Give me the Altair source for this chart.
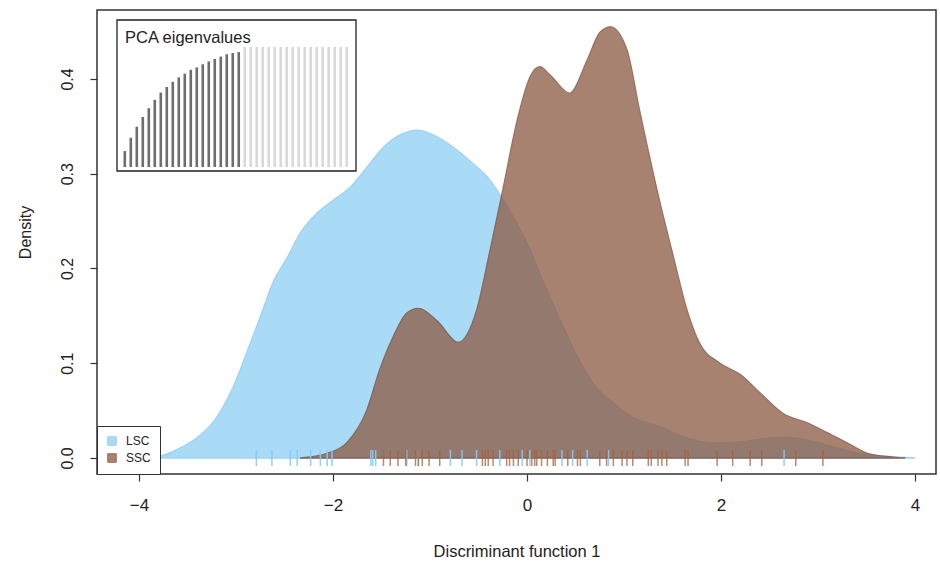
import altair as alt
import pandas as pd

# ---- data ----
groups = ["LSC", "SSC"]

lsc_x = [-3.96, -3.75, -3.55, -3.37, -3.20, -3.03, -2.89, -2.75, -2.62, -2.47, -2.34, -2.16,
         -2.00, -1.82, -1.65, -1.48, -1.31, -1.13, -0.97, -0.76, -0.56, -0.38, -0.26, -0.14,
         0.00, 0.16, 0.34, 0.52, 0.68, 0.89, 1.09, 1.37, 1.65, 1.92, 2.20, 2.40, 2.64, 2.89,
         3.15, 3.43, 3.71, 4.00]
lsc_y = [0, 0.003, 0.012, 0.024, 0.043, 0.075, 0.111, 0.149, 0.185, 0.212, 0.237, 0.259,
         0.272, 0.286, 0.307, 0.328, 0.341, 0.346, 0.341, 0.328, 0.311, 0.293, 0.275, 0.254,
         0.227, 0.188, 0.146, 0.107, 0.079, 0.058, 0.043, 0.033, 0.021, 0.016, 0.017, 0.020,
         0.022, 0.019, 0.012, 0.005, 0.002, 0]

ssc_x = [-2.34, -2.06, -1.86, -1.65, -1.52, -1.38, -1.24, -1.12, -0.92, -0.71, -0.52, -0.38,
         -0.25, -0.10, 0.03, 0.13, 0.24, 0.44, 0.62, 0.75, 0.86, 1.03, 1.16, 1.34, 1.51, 1.65,
         1.78, 1.99, 2.20, 2.40, 2.64, 2.89, 3.09, 3.30, 3.51, 3.77, 3.90]
ssc_y = [0, 0.005, 0.016, 0.051, 0.093, 0.128, 0.153, 0.158, 0.144, 0.122, 0.156, 0.220,
         0.283, 0.357, 0.402, 0.413, 0.404, 0.385, 0.420, 0.449, 0.455, 0.431, 0.367, 0.283,
         0.212, 0.156, 0.121, 0.100, 0.088, 0.069, 0.047, 0.037, 0.027, 0.016, 0.005, 0.001, 0]

lsc_rug = [-2.79, -2.63, -2.44, -2.37, -2.23, -2.13, -2.06, -2.01, -1.61, -1.59, -1.56, -1.24,
           -1.12, -0.79, -0.67, -0.52, -0.28, -0.05, 0.03, 0.36, 0.47, 0.62, 0.84, 2.65]
ssc_rug = [-1.48, -1.41, -1.33, -1.25, -1.15, -1.12, -1.08, -1.01, -0.90, -0.46, -0.43, -0.40,
           -0.35, -0.21, -0.18, -0.14, -0.09, 0.00, 0.05, 0.08, 0.10, 0.15, 0.21, 0.27, 0.29,
           0.42, 0.52, 0.55, 0.75, 0.82, 0.89, 0.98, 1.03, 1.09, 1.25, 1.28, 1.35, 1.39, 1.44,
           1.63, 1.66, 1.96, 2.12, 2.30, 2.42, 2.77, 3.05]

# cumulative PCA eigenvalues (inset), first 20 retained
eig_cum = [0.133, 0.244, 0.336, 0.417, 0.490, 0.560, 0.620, 0.667, 0.710, 0.747,
           0.778, 0.810, 0.830, 0.856, 0.880, 0.900, 0.920, 0.940, 0.950, 0.958] + [1.0] * 18
n_retained = 20

x_ticks = [-4, -2, 0, 2, 4]
y_ticks = [0.0, 0.1, 0.2, 0.3, 0.4]

FONT = "Liberation Sans"

dens = pd.concat([
    pd.DataFrame({"group": "LSC", "x": lsc_x, "y": lsc_y}),
    pd.DataFrame({"group": "SSC", "x": ssc_x, "y": ssc_y}),
], ignore_index=True)

xs = alt.Scale(domain=[-4.433, 4.216], nice=False, zero=False)
ys = alt.Scale(domain=[-0.0169, 0.4728], nice=False, zero=False)

areas = alt.Chart(dens).mark_area(interpolate="monotone", strokeWidth=1.3).encode(
    x=alt.X("x:Q", scale=xs,
            axis=alt.Axis(values=x_ticks, format="d", title="Discriminant function 1",
                          labelFontSize=17, labelPadding=16, titleFontSize=16.5,
                          titlePadding=30)),
    y=alt.Y("y:Q", scale=ys, stack=None,
            axis=alt.Axis(values=y_ticks, format=".1f", title="Density",
                          labelAngle=270, labelAlign="center", labelBaseline="middle",
                          labelPadding=23, labelFontSize=16, titleFontSize=16,
                          titleAngle=270, titleAlign="center", titleBaseline="middle",
                          titleX=-72, titleY=222)),
    y2=alt.datum(0),
    color=alt.Color("group:N", scale=alt.Scale(domain=groups, range=["#a9daf6", "#8e5c44"]),
                    legend=alt.Legend(title=None, orient="bottom-left", offset=0, padding=9,
                                      fillColor="white", strokeColor="#333",
                                      symbolType="square", symbolSize=74,
                                      symbolStrokeColor="#333", symbolStrokeWidth=1,
                                      labelFont=FONT, labelFontSize=12, labelOffset=8,
                                      labelColor="#222", rowPadding=3)),
    opacity=alt.Opacity("group:N", scale=alt.Scale(domain=groups, range=[1.0, 0.76]), legend=None),
    stroke=alt.Stroke("group:N", scale=alt.Scale(domain=groups, range=["#9fd3f3", "#7a4634"]),
                      legend=None),
)

rug_l = alt.Chart(pd.DataFrame({"x": lsc_rug})).mark_rule(
    color="#86cbf5", strokeWidth=1.5, opacity=0.9).encode(
    x="x:Q", y=alt.datum(-0.0085), y2=alt.datum(0.0085))
rug_s = alt.Chart(pd.DataFrame({"x": ssc_rug})).mark_rule(
    color="#a5603a", strokeWidth=1.5, opacity=0.75).encode(
    x="x:Q", y=alt.datum(-0.0085), y2=alt.datum(0.0085))

main = alt.layer(areas, rug_l, rug_s)

# ---- inset ----
ix = alt.Scale(domain=[-0.3, 39.55], range=[20, 259], nice=False, zero=False)
iy = alt.Scale(domain=[-0.033, 1.225], range=[161, 10], nice=False, zero=False)

inset_box = alt.Chart(pd.DataFrame({"x0": [-0.3], "x1": [39.55], "y0": [-0.033], "y1": [1.225]})
                      ).mark_rect(fill="white", stroke="#222", strokeWidth=1.3).encode(
    x=alt.X("x0:Q", scale=ix, axis=None), x2="x1",
    y=alt.Y("y0:Q", scale=iy, axis=None), y2="y1")

eig_df = pd.DataFrame({"i": list(range(1, len(eig_cum) + 1)), "v": eig_cum})
inset_bars = alt.Chart(eig_df).mark_rule(strokeWidth=2.6).encode(
    x=alt.X("i:Q", scale=ix, axis=None),
    y=alt.Y("v:Q", scale=iy, axis=None), y2=alt.datum(0),
    color=alt.condition(alt.datum.i <= n_retained, alt.value("#6e6e6e"), alt.value("#d9d9d9")))

inset_text = alt.Chart(pd.DataFrame({"t": ["PCA eigenvalues"]})).mark_text(
    align="left", baseline="middle", font=FONT, fontSize=16.5, color="#222").encode(
    x=alt.datum(1.03), y=alt.datum(1.075), text="t:N")

inset = alt.layer(inset_box, inset_bars, inset_text)

chart = alt.layer(main, inset).resolve_scale(x="independent", y="independent").properties(
    width=839, height=464,
    padding={"left": 97, "top": 10, "right": 4, "bottom": 89},
    autosize=alt.AutoSizeParams(type="none"),
).configure_view(stroke="#333", strokeWidth=1.5).configure_axis(
    grid=False, domain=False, tickColor="#333", tickWidth=1.2, tickSize=7,
    labelFont=FONT, labelColor="#222", titleFont=FONT, titleColor="#222",
    titleFontWeight="normal")

chart.save("out.html", embed_options={"renderer": "svg", "actions": False})
